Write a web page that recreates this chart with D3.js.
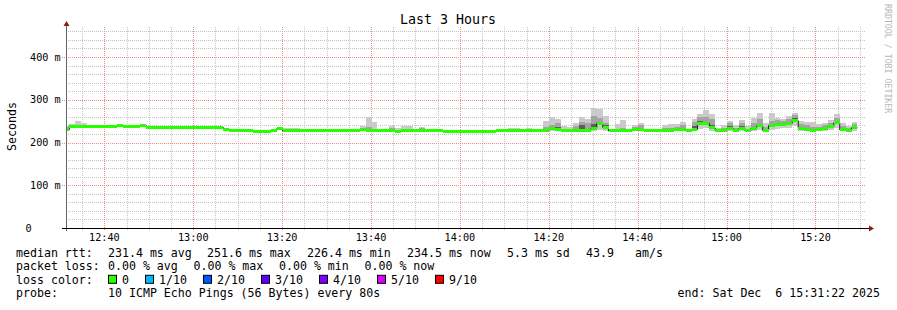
<!DOCTYPE html>
<html lang="en">
<head>
<meta charset="UTF-8">
<title>Last 3 Hours</title>
<script src="https://d3js.org/d3.v7.min.js"></script>
<style>
  body { margin: 0; background: #fff; }
  svg { display: block; background: #fff; }
  text { font-family: "DejaVu Sans Mono", monospace; fill: #000; white-space: pre; }
  .axis-label { font-size: 10.2px; }
  .legend { font-size: 11.6px; }
  .band { shape-rendering: crispEdges; }
</style>
</head>
<body>
<svg width="897" height="310"></svg>
<script>
// time frame
const endTime = new Date(2025, 11, 6, 15, 31, 22);
const startTime = new Date(+endTime - 3 * 3600 * 1000);
const firstStep = new Date(2025, 11, 6, 12, 30, 47);
const stepSeconds = 80;

// median rtt per 80s step (ms)
const median = [
  230, 238, 238, 238, 238, 238, 238, 237.5, 237.5, 239,
  237.5, 237.5, 237.5, 239, 235, 235, 235, 235, 235, 235,
  235, 235, 235, 235, 235, 235, 235, 231, 228.5, 228.5,
  228.5, 228.5, 226.8, 226.8, 226.8, 229, 232.5, 227, 227, 227,
  227, 227, 227, 227, 227, 227, 227, 227, 227, 227,
  229.5, 229, 227.5, 227, 227, 227, 226.8, 227, 227, 227,
  227.5, 227, 227, 227, 226.8, 226.4, 226.4, 226.8, 226.8, 226.8,
  226.8, 226.8, 226.8, 228, 228, 227.5, 227.5, 227.5, 227.5, 227.5,
  227.5, 229, 232.5, 231, 227, 227, 229, 227.5, 228.5, 233,
  245, 235.5, 227, 227, 227, 227, 230, 229.5, 227, 227,
  227, 228.5, 228.5, 231, 230, 227, 230.5, 245, 245, 234,
  227, 229, 233, 229, 233, 228, 233, 239, 228, 240,
  242, 242, 245, 251, 233, 230, 227, 230, 233, 237,
  246, 229.5, 228, 234.5
];

// slowest ping of the step (ms)
const pingMax = [
  238, 243, 250, 246, 239, 239, 239, 238.5, 238.5, 240,
  238.5, 238.5, 238.5, 240, 236, 236, 236, 236, 236, 236,
  236, 236, 236, 236, 236, 236, 236, 232, 229.5, 229.5,
  229.5, 229.5, 227.8, 227.8, 227.8, 230, 237, 234.5, 234.5, 234.5,
  228, 228, 231.6, 228, 228, 228, 231.6, 228, 228, 228,
  239, 260, 249, 228, 231.6, 239, 234.5, 239, 239, 231.6,
  237, 231.6, 228, 231.6, 227.8, 227.8, 227.8, 227.8, 227.8, 227.8,
  227.8, 227.8, 227.8, 229, 229, 233, 233, 229.5, 233, 228.5,
  231.6, 251, 260, 255, 239, 237, 246, 260, 254, 280,
  278, 263, 229, 243, 253, 231, 241, 246, 228, 228,
  231.6, 241, 243, 243, 249, 229, 254, 267, 276, 267,
  235, 241, 251, 241, 253, 238, 258, 270, 246, 270,
  258, 254, 262, 268, 250, 249, 247, 243, 246, 253,
  266, 245, 239, 249
];

// second slowest ping (ms)
const pingHigh = [
  236, 239, 240, 240, 238.5, 238.5, 238.5, 238, 238, 239.5,
  238, 238, 238, 239.5, 235.5, 235.5, 235.5, 235.5, 235.5, 235.5,
  235.5, 235.5, 235.5, 235.5, 235.5, 235.5, 235.5, 231.5, 229, 229,
  229, 229, 227.3, 227.3, 227.3, 229.5, 234, 229, 229, 229,
  227.5, 227.5, 228, 227.5, 227.5, 227.5, 228, 227.5, 227.5, 227.5,
  231, 236, 230, 227.5, 228, 233, 228, 231.6, 231.6, 228,
  233, 228, 227.5, 228, 227.3, 227.3, 227.3, 227.3, 227.3, 227.3,
  227.3, 227.3, 227.3, 228.5, 228.5, 229, 229, 228, 229, 228,
  229, 236, 240, 246, 231, 230, 239, 248, 246, 262,
  258, 246, 228, 232, 235, 228.5, 237, 241, 227.5, 227.5,
  229, 233, 234, 236, 240, 228, 249, 260, 260, 255,
  230, 234, 245, 234, 245, 232, 245, 254, 236, 250,
  252, 250, 255, 264, 244, 240, 236, 237, 241, 246,
  258, 238, 233, 244
];

// upper edge of the dense core of pings (ms)
const pingCore = [
  234, 238.5, 238.5, 238.5, 238, 238, 238, 237.5, 237.5, 239,
  237.5, 237.5, 237.5, 239, 235, 235, 235, 235, 235, 235,
  235, 235, 235, 235, 235, 235, 235, 231, 228.5, 228.5,
  228.5, 228.5, 226.8, 226.8, 226.8, 229, 233, 228, 228, 228,
  227, 227, 227.5, 227, 227, 227, 227.5, 227, 227, 227,
  230, 231, 228, 227, 227.5, 228, 227, 228, 228, 227.5,
  228, 227.5, 227, 227.5, 226.8, 226.8, 226.8, 226.8, 226.8, 226.8,
  226.8, 226.8, 226.8, 228, 228, 228, 228, 227.5, 228, 227.5,
  228, 231, 235, 236, 228, 228, 231, 240, 232, 244,
  249, 240, 227.5, 228, 229, 227.5, 233, 234, 227, 227,
  228, 230, 230, 233, 234, 227.5, 238, 250, 248, 240,
  228, 231, 238, 231, 238, 230, 237, 244, 231, 244,
  246, 246, 249, 258, 237, 234, 230, 233, 236, 240,
  251, 233, 230, 238
];

// fastest ping of the step (ms)
const pingMin = [
  229, 237, 237, 237, 237, 237, 237, 236.5, 236.5, 238,
  236.5, 236.5, 236.5, 238, 234, 234, 234, 234, 234, 234,
  234, 234, 234, 234, 234, 234, 234, 230, 227.5, 227.5,
  227.5, 227.5, 226, 226, 226, 228, 231, 226.5, 226.5, 226.5,
  226.5, 226.5, 226.5, 226.5, 226.5, 226.5, 226.5, 226.5, 226.5, 226.5,
  227, 226.5, 226.5, 226.5, 226.5, 226.5, 226.4, 226.5, 226.5, 226.5,
  226.5, 226.5, 226.5, 226.5, 226.4, 226.4, 226.4, 226.4, 226.4, 226.4,
  226.4, 226.4, 226.4, 227, 227, 227, 227, 227, 227, 227,
  227, 226.5, 227, 227, 226.5, 226.5, 226.5, 226.5, 226.5, 227,
  230, 227, 226.5, 226.5, 226.5, 226.5, 227, 227, 226.5, 226.5,
  226.5, 226.5, 226.5, 227, 227, 226.5, 227, 232, 233, 228,
  226.5, 227, 227, 227, 227, 226.5, 227, 229, 226.5, 230,
  232, 233, 235, 238, 227, 227, 226.5, 227, 228, 229,
  234, 227, 226.5, 228
];

// axis + legend text
const yTickValues = [0, 100, 200, 300, 400];
const yTickLabels = ["0", "100 m", "200 m", "300 m", "400 m"];
const statsLabels = ["231.4 ms avg", "251.6 ms max", "226.4 ms min", "234.5 ms now", "5.3 ms sd", "43.9", "am/s"];
const statsX = [108, 207, 307, 407, 507, 586, 635];
const lossStats = ["0.00 % avg", "0.00 % max", "0.00 % min", "0.00 % now"];
const lossLabels = ["0", "1/10", "2/10", "3/10", "4/10", "5/10", "9/10"];
const lossColors = ["#26ff00", "#00b8ff", "#0059ff", "#5e00ff", "#7e00ff", "#dd00ff", "#ff0000"];

const svg = d3.select("svg");

const x = d3.scaleTime().domain([startTime, endTime]).range([66, 866]);
const y = d3.scaleLinear().domain([0, 470.2]).range([228, 27]);

const steps = median.map((m, i) => ({
  t0: d3.timeSecond.offset(firstStep, i * stepSeconds),
  t1: d3.timeSecond.offset(firstStep, (i + 1) * stepSeconds),
  median: m, min: pingMin[i], max: pingMax[i], high: pingHigh[i], core: pingCore[i]
}));

// grid
const grid = svg.append("g").attr("fill", "none");
const px = v => Math.round(v) + 0.5;
const minorX = x.ticks(d3.timeMinute.every(5)).filter(t => t.getMinutes() % 20 !== 0);
const majorX = x.ticks(d3.timeMinute.every(20));
const minorY = d3.range(20, 470, 20).filter(v => v % 100 !== 0);

grid.selectAll(".vminor").data(minorX).join("line")
  .attr("x1", d => px(x(d))).attr("x2", d => px(x(d)))
  .attr("y1", y.range()[1]).attr("y2", 230)
  .attr("stroke", "#c4c4c4").attr("stroke-dasharray", "1,1");
grid.selectAll(".hminor").data(minorY).join("line")
  .attr("x1", 66).attr("x2", 866)
  .attr("y1", d => px(y(d))).attr("y2", d => px(y(d)))
  .attr("stroke", "#c4c4c4").attr("stroke-dasharray", "1,1");
grid.selectAll(".vmajor").data(majorX).join("line")
  .attr("x1", d => px(x(d))).attr("x2", d => px(x(d)))
  .attr("y1", y.range()[1]).attr("y2", 231)
  .attr("stroke", "#ec8a8a").attr("stroke-dasharray", "1,1");
grid.selectAll(".hmajor").data(yTickValues.slice(1)).join("line")
  .attr("x1", 62).attr("x2", 866)
  .attr("y1", d => px(y(d))).attr("y2", d => px(y(d)))
  .attr("stroke", "#ec8a8a").attr("stroke-dasharray", "1,1");

// smoke
svg.append("clipPath").attr("id", "plot")
  .append("rect").attr("x", 66).attr("y", 0).attr("width", 800).attr("height", 228);
const plot = svg.append("g").attr("clip-path", "url(#plot)");

function band(cls, lo, hi, color) {
  plot.selectAll("." + cls).data(steps).join("rect")
    .attr("class", cls + " band")
    .attr("x", d => x(d.t0))
    .attr("width", d => x(d.t1) - x(d.t0))
    .attr("y", d => y(Math.max(lo(d), hi(d))))
    .attr("height", d => Math.abs(y(lo(d)) - y(hi(d))))
    .attr("fill", color);
}
band("smoke1", d => d.min, d => d.max, "#cacaca");
band("smoke2", d => d.median, d => d.high, "#a4a4a4");
band("smoke3", d => d.median, d => d.core, "#5e5e5e");

// median line + loss-coloured band
const linePts = steps.map(d => [d.t0, d.median]);
linePts.push([steps[steps.length - 1].t1, steps[steps.length - 1].median]);
plot.append("path")
  .datum(linePts)
  .attr("fill", "none").attr("stroke", "#202020").attr("stroke-width", 1)
  .attr("d", d3.line().x(d => x(d[0])).y(d => y(d[1])).curve(d3.curveStepAfter));

plot.selectAll(".med").data(steps).join("rect")
  .attr("class", "med band")
  .attr("x", d => x(d.t0))
  .attr("width", d => x(d.t1) - x(d.t0))
  .attr("y", d => y(d.median) - 1.5)
  .attr("height", 3)
  .attr("fill", lossColors[0]);

// axes
svg.append("line").attr("x1", 66.5).attr("x2", 66.5).attr("y1", 231).attr("y2", 24)
  .attr("stroke", "#666");
svg.append("path").attr("d", "M63.5,26L66.5,21L69.5,26Z").attr("fill", "#8b1a1a");
svg.append("line").attr("x1", 62).attr("x2", 870).attr("y1", 228.5).attr("y2", 228.5)
  .attr("stroke", "#000");
svg.append("path").attr("d", "M869,225.5L874,228.5L869,231.5Z").attr("fill", "#8b1a1a");

svg.selectAll(".xl").data(majorX).join("text")
  .attr("class", "axis-label")
  .attr("x", d => x(d)).attr("y", 240.5)
  .attr("text-anchor", "middle")
  .text(d3.timeFormat("%H:%M"));

svg.selectAll(".yl").data(yTickValues).join("text")
  .attr("class", "axis-label")
  .attr("x", (d, i) => i === 0 ? 25.5 : 30)
  .attr("y", d => y(d) + 3.6)
  .text((d, i) => yTickLabels[i]);

// titles
svg.append("text").attr("x", 448).attr("y", 23.5).attr("text-anchor", "middle")
  .style("font-size", "13.3px").text("Last 3 Hours");
svg.append("text").attr("transform", "translate(15.5,126.5) rotate(-90)")
  .attr("text-anchor", "middle").style("font-size", "11.6px").text("Seconds");
svg.append("text").attr("transform", "translate(885,4) rotate(90)")
  .style("font-size", "8.25px").style("fill", "#b8b8b8").text("RRDTOOL / TOBI OETIKER");

// legend
const rowY = [257, 270.4, 283.8, 297.2];
const lg = svg.append("g").attr("class", "legend");
lg.append("text").attr("x", 16).attr("y", rowY[0]).text("median rtt:");
lg.selectAll(".st").data(statsLabels).join("text")
  .attr("x", (d, i) => statsX[i]).attr("y", rowY[0]).text(d => d);

lg.append("text").attr("x", 16).attr("y", rowY[1]).text("packet loss:");
lg.selectAll(".ls").data(lossStats).join("text")
  .attr("x", (d, i) => 108 + i * 85.5).attr("y", rowY[1]).text(d => d);

lg.append("text").attr("x", 16).attr("y", rowY[2]).text("loss color:");
let bx = 108;
const boxX = lossLabels.map(l => { const v = bx; bx += 14 + l.length * 7 + 16; return v; });
lg.selectAll(".lb").data(lossLabels).join("rect")
  .attr("x", (d, i) => boxX[i] + 0.5).attr("y", rowY[2] - 8.5)
  .attr("width", 8).attr("height", 8)
  .attr("fill", (d, i) => lossColors[i]).attr("stroke", "#000");
lg.selectAll(".lt").data(lossLabels).join("text")
  .attr("x", (d, i) => boxX[i] + 14).attr("y", rowY[2]).text(d => d);

lg.append("text").attr("x", 16).attr("y", rowY[3]).text("probe:");
lg.append("text").attr("x", 108).attr("y", rowY[3]).text("10 ICMP Echo Pings (56 Bytes) every 80s");
lg.append("text").attr("x", 880).attr("y", rowY[3]).attr("text-anchor", "end")
  .text("end: Sat Dec  6 15:31:22 2025");
</script>
</body>
</html>
